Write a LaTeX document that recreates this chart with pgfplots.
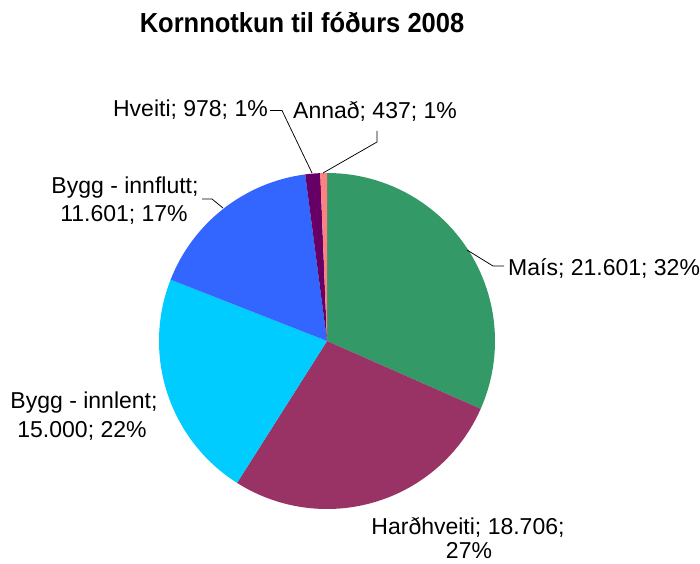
\documentclass[border=0pt]{standalone}
\usepackage{pgfplots}
\pgfplotsset{compat=1.18}
\usepackage{pgfplotstable}
\usepackage{fontspec}
\setmainfont{Liberation Sans}
\definecolor{cMais}{RGB}{51,153,102}
\definecolor{cHard}{RGB}{153,51,102}
\definecolor{cInnl}{RGB}{0,204,255}
\definecolor{cInnf}{RGB}{51,102,255}
\definecolor{cHveiti}{RGB}{102,0,102}
\definecolor{cAnnad}{RGB}{255,128,128}

% slices clockwise from 12 o'clock
\pgfplotstableread[col sep=comma]{
name,value,color
Mais,21601,cMais
Hardhveiti,18706,cHard
ByggInnlent,15000,cInnl
ByggInnflutt,11601,cInnf
Hveiti,978,cHveiti
Annad,437,cAnnad
}\piedata

\newcommand{\lab}{\fontsize{23}{28}\selectfont}

\begin{document}
\begin{tikzpicture}
\pgfplotstablegetrowsof{\piedata}
\pgfmathtruncatemacro\lastrow{\pgfplotsretval-1}
\xdef\total{0}
\foreach \i in {0,...,\lastrow}{%
  \pgfplotstablegetelem{\i}{value}\of\piedata
  \xdef\total{\fpeval{\total+\pgfplotsretval}}}
\xdef\cum{0}
\foreach \i in {0,...,\lastrow}{%
  \pgfplotstablegetelem{\i}{value}\of\piedata
  \expandafter\xdef\csname sa\i\endcsname{\fpeval{90-360*\cum/\total}}%
  \xdef\cum{\fpeval{\cum+\pgfplotsretval}}%
  \expandafter\xdef\csname ea\i\endcsname{\fpeval{90-360*\cum/\total}}%
  \pgfplotstablegetelem{\i}{color}\of\piedata
  \expandafter\xdef\csname pc\i\endcsname{\pgfplotsretval}}
\begin{axis}[
  hide axis, scale only axis,
  width=700pt, height=563pt,
  xmin=0, xmax=700, ymin=0, ymax=563,
  clip=false,
]
% fix the picture's extent to the full axis area
\path (rel axis cs:0,0) rectangle (rel axis cs:1,1);
\pgfplotsinvokeforeach{0,...,\lastrow}{%
  \edef\temp{\noexpand\fill[fill=\csname pc#1\endcsname]
    (axis cs:327,222) -- ++(\csname sa#1\endcsname:168pt)
    arc[start angle=\csname sa#1\endcsname, end angle=\csname ea#1\endcsname, radius=168pt]
    -- cycle;}\temp
}
% title
\node[anchor=base, font=\fontsize{25.5}{30}\selectfont\bfseries, inner sep=0pt,
  yscale=1.08, transform shape] at (axis cs:302,530) {Kornnotkun til fóðurs 2008};
% leader lines
\draw[line width=0.75pt] (axis cs:467,313) -- (axis cs:493,297) -- (axis cs:504,297);
\draw[line width=0.75pt] (axis cs:202,364) -- (axis cs:212,364) -- (axis cs:223,355);
\draw[line width=0.75pt] (axis cs:270,452.5) -- (axis cs:282,452.5) -- (axis cs:312,390);
\draw[line width=0.75pt] (axis cs:377,432) -- (axis cs:377,421) -- (axis cs:323,390);
% data labels
\node[anchor=base west, font=\lab, inner sep=0pt] at (axis cs:508,288) {Maís; 21.601; 32\%};
\node[anchor=base, font=\lab, inner sep=0pt] at (axis cs:468,29) {Harðhveiti; 18.706;};
\node[anchor=base, font=\lab, inner sep=0pt] at (axis cs:469,5) {27\%};
\node[anchor=base, font=\lab, inner sep=0pt] at (axis cs:84,155) {Bygg - innlent;};
\node[anchor=base, font=\lab, inner sep=0pt] at (axis cs:82,126) {15.000; 22\%};
\node[anchor=base, font=\lab, inner sep=0pt] at (axis cs:125,370) {Bygg - innflutt;};
\node[anchor=base, font=\lab, inner sep=0pt] at (axis cs:124,342) {11.601; 17\%};
\node[anchor=base east, font=\lab, inner sep=0pt] at (axis cs:268,446) {Hveiti; 978; 1\%};
\node[anchor=base west, font=\lab, inner sep=0pt] at (axis cs:293,444) {Annað; 437; 1\%};
\end{axis}
\end{tikzpicture}
\end{document}
